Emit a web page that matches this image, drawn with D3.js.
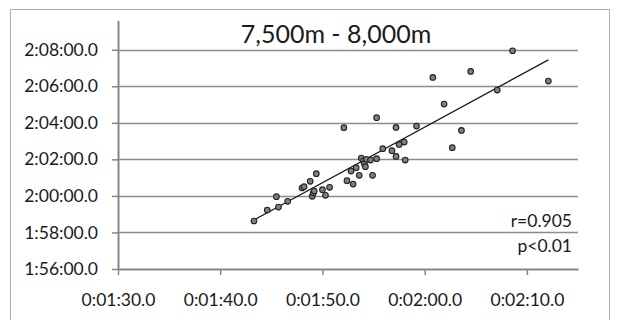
<!DOCTYPE html>
<html>
<head>
<meta charset="utf-8">
<script src="https://cdn.jsdelivr.net/npm/d3@7"></script>
<style>
  body { margin: 0; background: #fff; }
  text { font-family: Lato, "Open Sans", sans-serif; fill: #1a1a1a; }
</style>
</head>
<body>
<div id="chart"></div>
<script>
// lap split (x) vs total time (y), both in seconds
let xSec = [103.3, 104.6, 105.5, 105.7, 106.6, 108.0, 108.2, 108.8, 109.0, 109.1, 109.2, 109.4, 110.0, 110.3, 110.7, 112.1, 112.4, 112.8, 113.0, 113.3, 113.6, 113.8, 114.0, 114.1, 114.2, 114.3, 114.7, 114.9, 115.3, 115.3, 115.9, 116.8, 117.2, 117.2, 117.5, 118.0, 118.1, 119.2, 120.8, 121.9, 122.7, 123.6, 124.5, 127.1, 128.6, 132.1];
let ySec = [7117.6, 7153.7, 7197.4, 7163.5, 7182.1, 7225.9, 7230.3, 7247.8, 7198.5, 7209.5, 7216.0, 7272.9, 7220.4, 7201.8, 7228.1, 7424.0, 7250.0, 7281.7, 7239.0, 7292.6, 7267.5, 7324.4, 7314.5, 7305.8, 7296.0, 7320.0, 7317.8, 7267.5, 7456.8, 7322.2, 7355.0, 7348.4, 7425.0, 7329.8, 7369.2, 7376.9, 7317.8, 7429.4, 7589.2, 7501.6, 7358.3, 7415.2, 7608.9, 7547.6, 7676.7, 7577.1];

let xTicks = [90, 100, 110, 120, 130];
let yTicks = [6960, 7080, 7200, 7320, 7440, 7560, 7680];

let title = "7,500m - 8,000m";
let statLines = ["r=0.905", "p<0.01"];

let w = 621,
  h = 320;

let pad2 = function (n) {
  return (n < 10 ? "0" : "") + n;
};
let fmtTime = function (s) {
  let hh = Math.floor(s / 3600);
  let mm = Math.floor((s % 3600) / 60);
  let ss = s % 60;
  return hh + ":" + pad2(mm) + ":" + pad2(Math.floor(ss)) + "." + Math.round((ss % 1) * 10);
};

let svg = d3.select("#chart").append("svg").attr("width", w).attr("height", h);

// chart area border
svg.append("rect").attr("x", 10.5).attr("y", 9.5).attr("width", 599).attr("height", 320).attr("fill", "none").attr("stroke", "#b0b0b0").attr("stroke-width", 1);

let x = d3.scaleLinear().domain([90, 135]).range([118, 578]);
let y = d3.scaleLinear().domain([6960, 7776]).range([269, 20.5]);

// gridlines
svg
  .append("g")
  .selectAll("line")
  .data(yTicks.slice(1))
  .enter()
  .append("line")
  .attr("x1", x(90))
  .attr("x2", x(135))
  .attr("y1", function (d) {
    return Math.round(y(d)) + 0.5;
  })
  .attr("y2", function (d) {
    return Math.round(y(d)) + 0.5;
  })
  .attr("stroke", "#8c8c8c")
  .attr("stroke-width", 1.5);

let xAxis = svg
  .append("g")
  .attr("transform", "translate(0," + y(6960) + ")")
  .call(d3.axisBottom(x).tickValues(xTicks).tickSize(6).tickSizeOuter(0).tickPadding(19).tickFormat(fmtTime));

let yAxis = svg
  .append("g")
  .attr("transform", "translate(" + x(90) + ",0)")
  .call(d3.axisLeft(y).tickValues(yTicks).tickSize(6).tickSizeOuter(0).tickPadding(14).tickFormat(fmtTime));

[xAxis, yAxis].forEach(function (g) {
  g.selectAll("path.domain").attr("stroke", "#868686").attr("stroke-width", 2);
  g.selectAll(".tick line").attr("stroke", "#868686").attr("stroke-width", 1.5);
  g.selectAll(".tick text").style("font-size", "17.5px").style("font-family", "Lato, sans-serif").attr("fill", "#1a1a1a");
});

// least squares trend line
let mx = d3.mean(xSec),
  my = d3.mean(ySec);
let sxy = d3.sum(xSec, function (v, i) {
  return (v - mx) * (ySec[i] - my);
});
let sxx = d3.sum(xSec, function (v) {
  return (v - mx) * (v - mx);
});
let slope = sxy / sxx;
let icpt = my - slope * mx;
let xr = d3.extent(xSec);

svg
  .append("line")
  .attr("x1", x(xr[0]))
  .attr("y1", y(icpt + slope * xr[0]))
  .attr("x2", x(xr[1]))
  .attr("y2", y(icpt + slope * xr[1]))
  .attr("stroke", "#1a1a1a")
  .attr("stroke-width", 1.3);

svg
  .append("g")
  .selectAll("circle")
  .data(xSec)
  .enter()
  .append("circle")
  .attr("cx", function (d) {
    return x(d);
  })
  .attr("cy", function (d, i) {
    return y(ySec[i]);
  })
  .attr("r", 2.8)
  .attr("fill", "#808080")
  .attr("stroke", "#222")
  .attr("stroke-width", 1.1);

svg.append("text").attr("x", 336).attr("y", 43).attr("text-anchor", "middle").style("font-size", "25px").text(title);

svg
  .append("g")
  .selectAll("text")
  .data(statLines)
  .enter()
  .append("text")
  .attr("x", 572)
  .attr("y", function (d, i) {
    return 227 + i * 25;
  })
  .attr("text-anchor", "end")
  .style("font-size", "17.5px")
  .text(function (d) {
    return d;
  });
</script>
</body>
</html>
